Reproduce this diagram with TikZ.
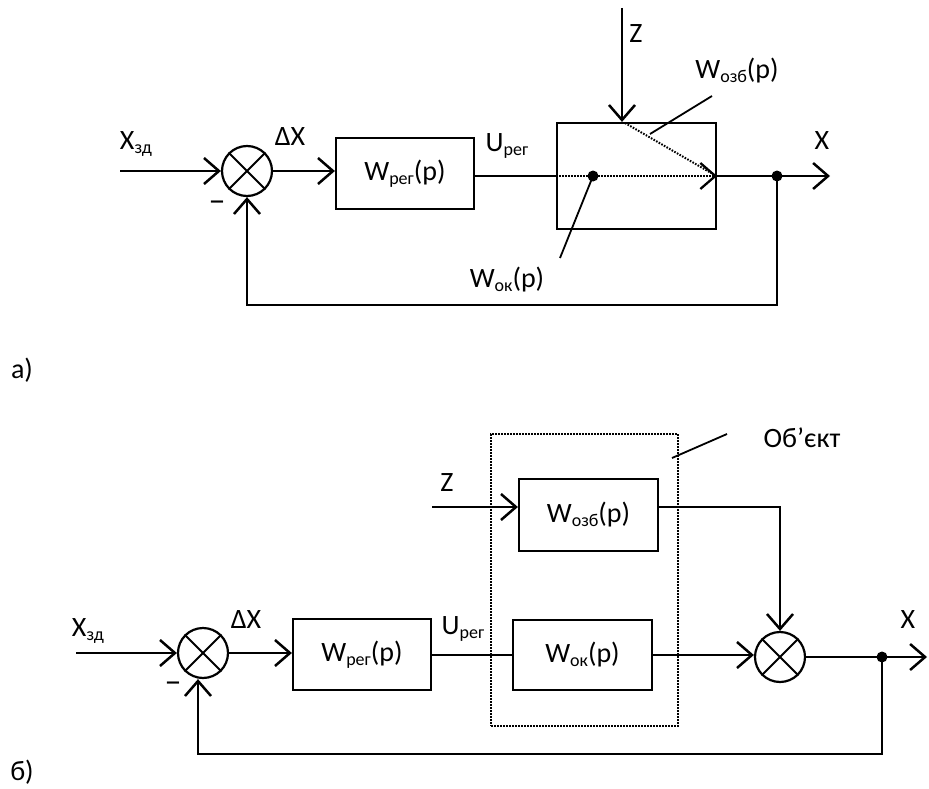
\documentclass[tikz,border=0pt]{standalone}
\usepackage{fontspec}
\setmainfont{Carlito}
\usetikzlibrary{arrows.meta}
\newcommand\bigsub[1]{\raisebox{-4pt}{\fontsize{18}{18}\selectfont #1}}
\tikzset{
  big/.style={font=\fontsize{28}{30}\selectfont, inner sep=0pt},
  lab/.style={font=\fontsize{28}{30}\selectfont, inner sep=0pt},
  minus/.style={font=\fontsize{34}{36}\selectfont, inner sep=0pt},
  blk/.style={draw, line width=2.2pt, inner sep=0pt, font=\fontsize{28}{30}\selectfont},
  sum/.style={draw, circle, line width=2.2pt, minimum size=50pt, inner sep=0pt},
  sig/.style={line width=2.5pt, -{Straight Barb[length=15pt,width=26pt]}},
  wire/.style={line width=1.7pt},
  dots/.style={line width=2pt, dash pattern=on 1.6pt off 1.4pt},
  ptr/.style={line width=1.8pt},
  jdot/.style={circle, fill, inner sep=0pt, minimum size=11pt}
}
\begin{document}
\begin{tikzpicture}[x=1pt,y=-1pt]
\useasboundingbox (0,0) rectangle (929,789);
% ---------------- a) ----------------
\node[sum] (s1) at (247,171) {};
\draw[line width=1.8pt] (s1.north west) -- (s1.south east) (s1.north east) -- (s1.south west);
\node[blk, minimum width=138pt, minimum height=71pt] (reg1) at (405,173.5) {W\bigsub{рег}(p)};
\node[draw, line width=2.2pt, minimum width=159pt, minimum height=106pt] (obj) at (636.5,176) {};
\coordinate (in1) at (120,171);
\draw[sig] (in1) -- (s1.west);
\node[lab] (lxzd1) at (136,144) {X\bigsub{зд}};
\node[lab] (ldx1) at (290,137) {ΔX};
\node[minus] (lm1) at (217,206) {–};
\draw[sig] (s1.east) -- (s1.east -| reg1.west);
\draw[wire] (reg1.east |- obj.west) -- (obj.west);
\node[lab] (lu1) at (507,146) {U\bigsub{рег}};
\draw[dots, -{Straight Barb[length=15pt,width=26pt,line width=2.3pt]}] (obj.west) -- (obj.east);
\node[jdot] (j0) at (593,176) {};
\coordinate (zin) at (622,8);
\draw[sig] (zin) -- (zin |- obj.north);
\node[lab] (lz1) at (636,34) {Z};
\coordinate (dg) at (625,123);
\draw[dots] (dg) -- ([xshift=-6pt,yshift=3pt]obj.east);
\node[big] (lozb1) at (737,71) {W\bigsub{озб}(p)};
\coordinate (p1a) at (712,96);
\coordinate (p1b) at (650,134);
\draw[ptr] (p1a) -- (p1b);
\coordinate (p2) at (560,258);
\draw[ptr] (j0.center) -- (p2);
\node[big] (lok1) at (507,280) {W\bigsub{ок}(p)};
\node[jdot] (j1) at (777,176) {};
\coordinate (out1) at (830,176);
\draw[sig] (obj.east) -- (out1);
\node[lab] (lx1) at (822,141) {X};
\coordinate (fb1) at (777,305);
\draw[sig] (j1.center) -- (fb1) -- (fb1 -| s1) -- (s1.south);
\node[big] (la) at (22,370) {а)};
% ---------------- b) ----------------
\node[draw, dots, line width=1.8pt, minimum width=187pt, minimum height=292pt] (objb) at (584.5,580) {};
\node[sum] (s2) at (203,653) {};
\draw[line width=1.8pt] (s2.north west) -- (s2.south east) (s2.north east) -- (s2.south west);
\node[sum] (s3) at (780,657) {};
\draw[line width=1.8pt] (s3.north west) -- (s3.south east) (s3.north east) -- (s3.south west);
\node[blk, minimum width=138pt, minimum height=71pt] (reg2) at (362,654.5) {W\bigsub{рег}(p)};
\node[blk, minimum width=139pt, minimum height=70pt] (ok) at (582.5,655) {W\bigsub{ок}(p)};
\node[blk, minimum width=139pt, minimum height=72pt] (ozb) at (588.5,515) {W\bigsub{озб}(p)};
\coordinate (in2) at (76,653);
\draw[sig] (in2) -- (s2.west);
\node[lab] (lxzd2) at (88,631) {X\bigsub{зд}};
\node[lab] (ldx2) at (246,620) {ΔX};
\node[minus] (lm2) at (173,687) {–};
\draw[sig] (s2.east) -- (s2.east -| reg2.west);
\node[lab] (lu2) at (463,629) {U\bigsub{рег}};
\draw[wire] (reg2.east |- ok.west) -- (ok.west);
\coordinate (zin2) at (432,507);
\draw[sig] (zin2) -- (zin2 -| ozb.west);
\node[lab] (lz2) at (447,483) {Z};
\draw[wire] (zin2 -| ozb.east) -| ([yshift=14pt]s3.north);
\draw[sig] ([yshift=14pt]s3.north) -- (s3.north);
\draw[sig] (ok.east) -- (ok.east -| s3.west);
\node[jdot] (j2) at (882,657) {};
\coordinate (out2) at (927,657);
\draw[sig] (s3.east) -- (out2);
\node[lab] (lx2) at (908,620) {X};
\coordinate (fb2) at (882,754);
\coordinate (fbl) at (198,754);
\draw[sig] (j2.center) -- (fb2) -- (fbl) -- (fbl |- s2.south);
\node[big] (lobj) at (802,438) {Об’єкт};
\coordinate (p3a) at (672,458);
\coordinate (p3b) at (727,434);
\draw[ptr] (p3a) -- (p3b);
\node[big] (lb) at (22,772) {б)};
\end{tikzpicture}
\end{document}
